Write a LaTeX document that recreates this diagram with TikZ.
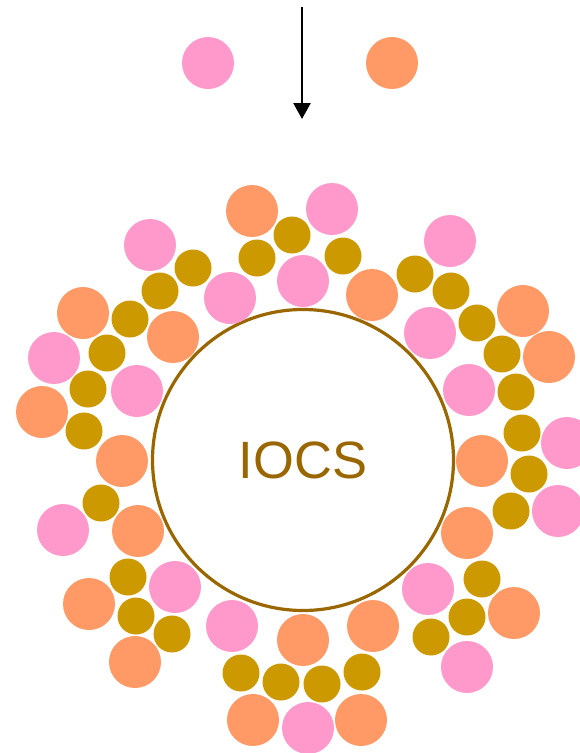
\documentclass[tikz,border=0pt]{standalone}
\usepackage{fontspec}
\setmainfont{Liberation Sans}
\usetikzlibrary{arrows.meta}
\definecolor{pinkc}{HTML}{FF99CC}
\definecolor{orangec}{HTML}{FF9966}
\definecolor{goldc}{HTML}{CC9900}
\definecolor{brownc}{HTML}{996600}
\tikzset{
  ball/.style={circle, inner sep=0pt, draw=none},
  pk/.style={ball, fill=pinkc, minimum size=52pt},
  og/.style={ball, fill=orangec, minimum size=52pt},
  gd/.style={ball, fill=goldc, minimum size=37pt},
  core/.style={circle, draw=brownc, line width=3.2pt, fill=white, minimum size=301pt, inner sep=0pt,
    text=brownc, font=\fontsize{52.5}{60}\selectfont},
}
\begin{document}
\begin{tikzpicture}[x=1pt,y=-1pt]
\useasboundingbox (0,0) rectangle (580,753);
% top
\node[pk] (tp) at (208,63) {};
\node[og] (to) at (392,63) {};
\coordinate (a1) at (302,7);
\coordinate (a2) at (302,119);
\draw[line width=2.6pt, -{Triangle[length=16pt,width=17pt]}] (a1) -- (a2);
% core
\node[core] (iocs) at (303,460) {\raisebox{-1.5pt}{IOCS}};
% pink
\foreach \x/\y [count=\i] in {332/209,150/245,230/298,303/281,54/358,137/391,450/241,430/333,469/390,567/443,558/511,428/589,467/667,308/728,63/530,175/587,232/626}
  \node[pk] (p\i) at (\x,\y) {};
% orange
\foreach \x/\y [count=\i] in {252/211,372/295,83/313,173/337,42/412,122/461,523/311,549/357,482/461,467/533,514/613,373/626,303/640,361/720,253/720,138/531,89/604,135/662}
  \node[og] (o\i) at (\x,\y) {};
% gold
\foreach \x/\y [count=\i] in {292/235,257/258,343/256,193/268,160/291,130/319,107/353,88/389,84/431,415/274,451/291,477/323,502/354,516/392,522/433,529/474,511/511,482/579,467/617,431/637,362/672,322/684,281/682,241/673,101/503,128/577,136/616,172/634}
  \node[gd] (g\i) at (\x,\y) {};
\end{tikzpicture}
\end{document}
